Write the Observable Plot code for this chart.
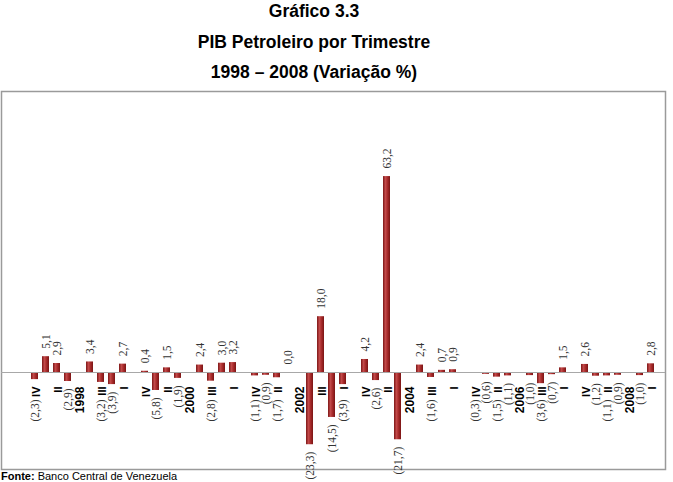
<!DOCTYPE html>
<html><head><meta charset="utf-8">
<script src="https://cdn.jsdelivr.net/npm/d3@7"></script>
<script src="https://cdn.jsdelivr.net/npm/@observablehq/plot@0.6"></script>
<style>
body{margin:0;background:#fff;width:673px;height:482px;overflow:hidden;position:relative;font-family:"Liberation Sans",Arial,sans-serif;}
#head{position:relative;height:88px;width:673px;}
.t{position:absolute;left:0;width:628px;text-align:center;font-weight:bold;font-size:17.5px;line-height:20px;color:#000;}
#foot{position:absolute;left:1px;top:470px;font-size:11px;line-height:12px;color:#000;}
#chart svg{display:block;background:transparent;}
</style></head><body>
<div id="head">
  <div class="t" style="top:1px">Gráfico 3.3</div>
  <div class="t" style="top:32px">PIB Petroleiro por Trimestre</div>
  <div class="t" style="top:62px">1998 – 2008 (Variação %)</div>
</div>
<div id="chart"></div>
<div id="foot"><b>Fonte:</b> Banco Central de Venezuela</div>
<script>
// Variação % por posição no eixo (null = posição vazia)
const values = [null,
  -2.3, 5.1, 2.9, -2.9, null,
  3.4, -3.2, -3.9, 2.7, null,
  0.4, -5.8, 1.5, -1.9, null,
  2.4, -2.8, 3.0, 3.2, null,
  -1.1, -0.9, -1.7, 0.0, null,
  -23.3, 18.0, -14.5, -3.9, null,
  4.2, -2.6, 63.2, -21.7, null,
  2.4, -1.6, 0.7, 0.9, null,
  -0.3, -0.6, -1.5, -1.1, null,
  -1.0, -3.6, -0.7, 1.5, null,
  2.6, -1.2, -1.1, -0.9, null,
  -1.0, 2.8];
// Rótulos visíveis do eixo de categorias
const tickLabels = ["",
  "IV", "", "II", "", "1998",
  "", "III", "", "I", "",
  "IV", "", "II", "", "2000",
  "", "III", "", "I", "",
  "IV", "", "II", "", "2002",
  "", "III", "", "I", "",
  "IV", "", "II", "", "2004",
  "", "III", "", "I", "",
  "IV", "", "II", "", "2006",
  "", "III", "", "I", "",
  "IV", "", "II", "", "2008",
  "", "I"];
const years = ["1998", "2000", "2002", "2004", "2006", "2008"];

const slots = values.map((_, i) => i);
const rows = slots.map(i => ({slot: i, value: values[i], label: tickLabels[i]}));
const bars = rows.filter(d => d.value !== null);
const fmt = v => v < 0 ? "(" + Math.abs(v).toFixed(1).replace(".", ",") + ")" : v.toFixed(1).replace(".", ",");

const yDomain = [-30, 70], yRange = [377, 67];
const k = (yRange[0] - yRange[1]) / (yDomain[1] - yDomain[0]);

const pos = bars.filter(d => d.value >= 0);
const negHidden = bars.filter(d => d.value < 0 && !d.label);
const negShown = bars.filter(d => d.value < 0 && d.label);
const quarterTicks = rows.filter(d => d.label && !years.includes(d.label));
const yearTicks = rows.filter(d => years.includes(d.label));

const serif = "'Liberation Serif', 'Times New Roman', serif";
const sans = "'Liberation Sans', Arial, sans-serif";

const chart = Plot.plot({
  width: 673, height: 394,
  marginTop: 3, marginBottom: 13, marginLeft: 1, marginRight: 8,
  x: {type: "band", domain: slots, range: [11.5, 661.1], paddingInner: 0.4, paddingOuter: 0.2, axis: null},
  y: {domain: yDomain, range: yRange, axis: null},
  marks: [
    Plot.frame({stroke: "#9a9a9a", strokeWidth: 1.5}),
    Plot.barY(bars, {x: "slot", y: "value", fill: "url(#barGrad)"}),
    Plot.ruleY([0], {stroke: "#a8a8a8", strokeWidth: 1}),
    Plot.text(pos, {x: "slot", y: "value", text: d => fmt(d.value), rotate: -90, textAnchor: "start", dy: -8, fontFamily: serif, fontSize: 11.5, fill: "#333"}),
    Plot.text(negHidden, {x: "slot", y: "value", text: d => fmt(d.value), rotate: -90, textAnchor: "end", dy: 7, fontFamily: serif, fontSize: 11.5, fill: "#333"}),
    Plot.text(negShown, {x: "slot", y: d => Math.min(d.value, -20 / k), text: d => fmt(d.value), rotate: -90, textAnchor: "end", dy: 7, fontFamily: serif, fontSize: 11.5, fill: "#333"}),
    Plot.text(quarterTicks, {x: "slot", y: () => 0, text: "label", rotate: -90, textAnchor: "end", dy: 14, dx: 1.5, fontFamily: sans, fontWeight: "bold", fontSize: 11, fill: "#000"}),
    Plot.text(yearTicks, {x: "slot", y: () => 0, text: "label", rotate: -90, textAnchor: "end", dy: 14, dx: 1.5, fontFamily: sans, fontWeight: "bold", fontSize: 12, fill: "#000"})
  ]
});
chart.insertAdjacentHTML("afterbegin",
  '<defs><linearGradient id="barGrad" x1="0" x2="1" y1="0" y2="0">' +
  '<stop offset="0" stop-color="#7d1616"/><stop offset="0.35" stop-color="#c24a4a"/>' +
  '<stop offset="0.65" stop-color="#a62a2a"/><stop offset="1" stop-color="#7a1414"/>' +
  '</linearGradient></defs>');
document.getElementById("chart").appendChild(chart);
</script>
</body></html>
